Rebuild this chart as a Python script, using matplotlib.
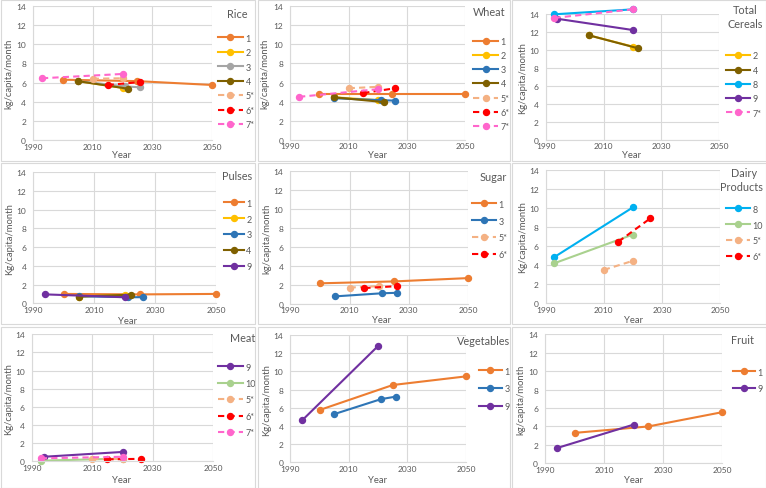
import matplotlib
matplotlib.use("Agg")
import matplotlib.pyplot as plt
from matplotlib.patches import Rectangle

plt.rcParams['font.family'] = ['Lato', 'DejaVu Sans']

# ---------------- data ----------------
years_1 = [2000, 2025, 2050]
years_2 = [2005, 2020]
years_3 = [2005, 2021, 2026]
years_4 = [2005, 2022]
years_5s = [2010, 2020]
years_6s = [2015, 2026]
years_7s = [1993, 2020]
years_8 = [1993, 2020]
years_9 = [1994, 2020]
years_10 = [1993, 2020]

rice = {'1': [6.3, 6.15, 5.75], '2': [6.15, 5.45], '3': [6.15, 5.6, 5.5], '4': [6.15, 5.35],
        '5*': [6.4, 6.45], '6*': [5.75, 6.05], '7*': [6.45, 6.9]}
wheat = {'1': [4.8, 4.8, 4.8], '2': [4.45, 4.15], '3': [4.35, 4.15, 4.1], '4': [4.45, 3.95],
         '5*': [5.4, 5.55], '6*': [4.9, 5.4], '7*': [4.5, 5.3]}
total_cereals = {'2': [11.65, 10.4], '4': [11.65, 10.2], '8': [14.0, 14.55], '9': [13.5, 12.25],
                 '7*': [13.6, 14.55]}
pulses = {'1': [1.0, 0.95, 1.0], '2': [0.72, 0.9], '3': [0.75, 0.65, 0.65], '4': [0.72, 0.92],
          '9': [0.95, 0.65]}
sugar = {'1': [2.15, 2.35, 2.7], '3': [0.77, 1.1, 1.15], '5*': [1.7, 1.85], '6*': [1.65, 1.85]}
dairy = {'8': [4.85, 10.05], '10': [4.2, 7.2], '5*': [3.5, 4.45], '6*': [6.45, 8.9]}
meat = {'9': [0.5, 1.03], '10': [0.07, 0.3], '5*': [0.27, 0.27], '6*': [0.22, 0.27],
        '7*': [0.33, 0.5]}
vegetables = {'1': [5.75, 8.5, 9.45], '3': [5.3, 6.95, 7.22], '9': [4.6, 12.8]}
fruit = {'1': [3.3, 4.0, 5.55], '9': [1.65, 4.2]}

series_years = {'1': years_1, '2': years_2, '3': years_3, '4': years_4, '5*': years_5s,
                '6*': years_6s, '7*': years_7s, '8': years_8, '9': years_9, '10': years_10}

x_ticks = [1990, 2010, 2030, 2050]
y_ticks = [0, 2, 4, 6, 8, 10, 12, 14]

# ---------------- styles ----------------
colors = {'1': '#ED7D31', '2': '#FFC000', '3': '#2E75B6', '4': '#7F6000', '5*': '#F4B183',
          '6*': '#FF0000', '7*': '#FF66CC', '8': '#00B0F0', '9': '#7030A0', '10': '#A9D18E'}
TXT = '#595959'
GRID = '#D9D9D9'

W, H = 766, 489
fig = plt.figure(figsize=(W / 100, H / 100), dpi=100)


def fx(px):
    return px / W


def fy(py):
    return 1 - py / H


# panel: data, origin, axes box (x0, x1, ytop, ybot), titles [(text, cx, cy)], ylabel, ylabel x,
# xlabel (cx, cy), legend (x, center y, spacing px, handle px), override colors
panels = [
    (rice, (0, 0), (33, 212, 7, 141), [('Rice', 237, 15)], 'kg/capita/month', 8.5, (122, 155),
     (218, 82.5, 14.5, 25), {'3': '#A5A5A5'}),
    (wheat, (256, 0), (34.3, 209.3, 7.3, 140.7), [('Wheat', 233, 13)], 'kg/capita/month', 8.5,
     (121, 155), (217, 85, 14.3, 25), {}),
    (total_cereals, (510, 0), (35.7, 209.3, 15.3, 140.7), [('Total', 235, 11), ('Cereals', 235, 25)],
     'Kg/capita/month', 12.5, (122, 155), (216, 85.5, 14.3, 24), {}),
    (pulses, (0, 163), (33.3, 216, 10, 141.3), [('Pulses', 237, 14)], 'Kg/capita/month', 9.5,
     (127, 159), (224, 73, 16, 19.5), {}),
    (sugar, (256, 163), (34.3, 212, 9, 141.7), [('Sugar', 237, 15)], 'kg/capita/month', 10.5,
     (126, 158), (216, 67.5, 17, 24), {}),
    (dairy, (510, 163), (35.7, 210, 7.7, 141.3), [('Dairy', 234, 11), ('Products', 231.5, 25)],
     'Kg/capita/month', 12.5, (123, 158), (216, 71, 16, 24), {}),
    (meat, (0, 326), (31.7, 213.3, 9.3, 136.3), [('Meat', 243, 12)], 'Kg/capita/month', 8.5,
     (122, 155), (218, 75, 16.5, 25), {}),
    (vegetables, (256, 326), (34.3, 210, 10, 137.3), [('Vegetables', 228, 16)], 'Kg/capita/month',
     10.5, (122, 155), (223, 64, 18, 23), {}),
    (fruit, (510, 326), (35, 212.3, 9.3, 138.3), [('Fruit', 232, 15)], 'kg/capita/month', 11,
     (123, 155), (223, 55.5, 17, 22), {}),
]

# panel borders
borders = [(0.5, 0.5, 255, 161.5), (258, 0.5, 509.5, 161.5), (512, 0.5, 765.5, 161.5),
           (0.5, 164, 255, 325), (258, 164, 509.5, 325), (512, 164, 765.5, 325),
           (0.5, 328, 255, 488.5), (258, 328, 509.5, 488.5), (512, 328, 765.5, 488.5)]
for (x0, y0, x1, y1) in borders:
    fig.patches.append(Rectangle((fx(x0), fy(y1)), fx(x1) - fx(x0), fy(y0) - fy(y1),
                                 transform=fig.transFigure, fill=False, edgecolor=GRID,
                                 linewidth=0.8))

LEG_FS = 6.5
fs_px = LEG_FS * 100 / 72
for (data, (ox, oy), (ax0, ax1, aty, aby), titles, ylab, ylx, (xlx, xly), (lx, lcy, lsp, hl),
     cover) in panels:
    ax = fig.add_axes([fx(ox + ax0), fy(oy + aby), fx(ax1 - ax0), (aby - aty) / H])
    ax.set_xlim(1990, 2050)
    ax.set_ylim(0, 14)
    ax.set_xticks(x_ticks)
    ax.set_yticks(y_ticks)
    ax.grid(True, color=GRID, linewidth=0.8)
    ax.set_axisbelow(True)
    for s in ['top', 'right']:
        ax.spines[s].set_visible(False)
    for s in ['left', 'bottom']:
        ax.spines[s].set_color(GRID)
        ax.spines[s].set_linewidth(0.8)
    ax.tick_params(length=0, labelsize=6, labelcolor=TXT)
    ax.tick_params(axis='x', pad=2)
    ax.tick_params(axis='y', pad=5)
    for lab in ax.get_xticklabels() + ax.get_yticklabels():
        lab.set_clip_on(False)

    for key, vals in data.items():
        c = cover.get(key, colors[key])
        dashed = key.endswith('*')
        ax.plot(series_years[key], vals, color=c, linewidth=1.5, marker='o', markersize=4.3,
                linestyle=(0, (3, 2)) if dashed else '-', label=key, clip_on=False)

    ax.set_ylabel(ylab, fontsize=6.8, color=TXT, va='center')
    ax.yaxis.set_label_coords(fx(ox + ylx), fy(oy + (aty + aby) / 2), transform=fig.transFigure)
    ax.set_xlabel('Year', fontsize=6.8, color=TXT, va='center')
    ax.xaxis.set_label_coords(fx(ox + xlx), fy(oy + xly), transform=fig.transFigure)

    for (t, cx, cy) in titles:
        if t == 'Meat':
            fig.text(fx(ox + 230), fy(oy + cy), t, ha='left', va='center', fontsize=7.8, color=TXT)
        else:
            fig.text(fx(ox + cx), fy(oy + cy), t, ha='center', va='center', fontsize=7.8, color=TXT)

    ls = max((lsp - 1.0 * fs_px) / fs_px, 0.05)
    leg = ax.legend(loc='center left', bbox_to_anchor=(fx(ox + lx), fy(oy + lcy)),
                    bbox_transform=fig.transFigure, frameon=False, fontsize=LEG_FS,
                    handlelength=hl / fs_px, handletextpad=0.3, labelspacing=ls, borderpad=0,
                    borderaxespad=0, numpoints=1)
    for t in leg.get_texts():
        t.set_color(TXT)

fig.savefig('out.png', dpi=100)
